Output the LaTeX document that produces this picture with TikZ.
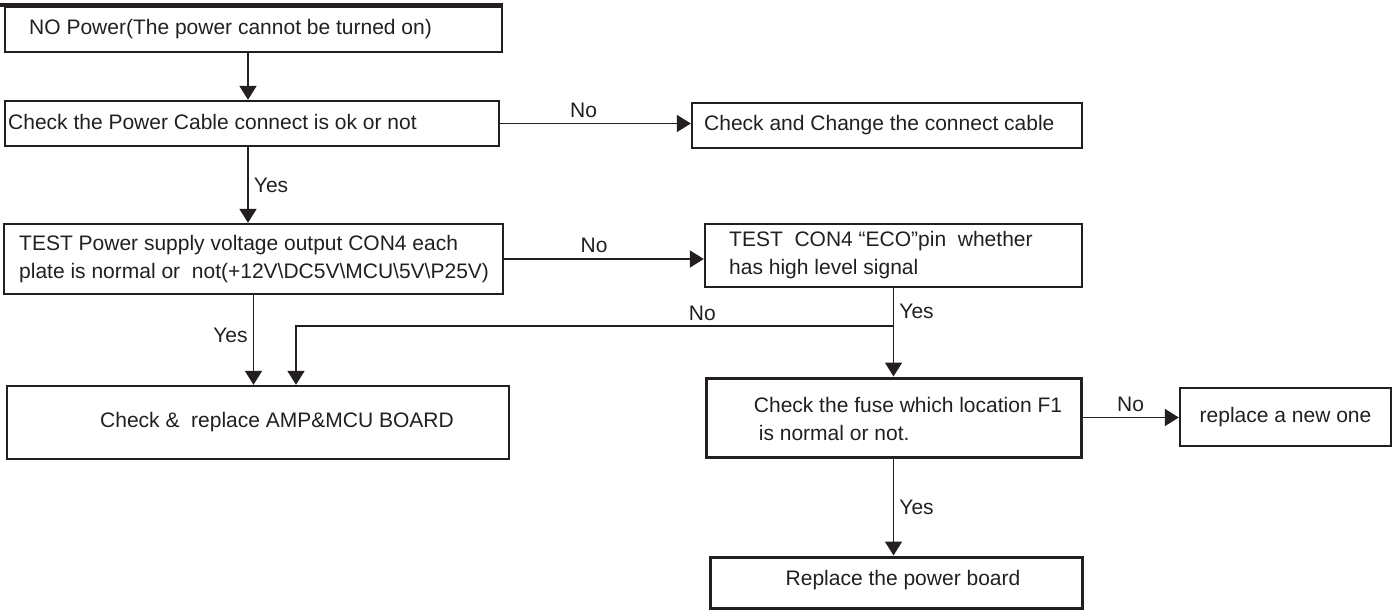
\documentclass[tikz,border=0pt]{standalone}
\usepackage{fontspec}
\setmainfont{Liberation Sans}
\usepackage{tikz}
\usetikzlibrary{arrows.meta, positioning, calc, fit}
\definecolor{ink}{RGB}{35,31,32}

\begin{document}
\begin{tikzpicture}[
		x=0.5pt, y=-0.5pt,
		box/.style={draw=ink, line width=1.2pt, inner sep=0pt},
		txt/.style={inner sep=0pt, text=ink, font=\fontsize{10.5}{14}\selectfont, align=left},
		lbl/.style={inner sep=2.5pt, text=ink, font=\fontsize{10.5}{12}\selectfont},
		arr/.style={->, draw=ink, line width=0.9pt},
		>={Triangle[length=7pt, width=8.5pt]}
	]
		\useasboundingbox (0,0) rectangle (1400,610);

		% Start: no power
		\draw[ink, line width=2pt] (0,5.5) -- (503,5.5);
		\node[box, fit={(5,7) (502,52)}] (b1) {};
		\node[txt, anchor=west] (t1) at ([xshift=12.5pt]b1.west) {NO Power(The power cannot be turned on)};

		% Power cable
		\node[box, fit={(5,101) (499,146)}] (b2) {};
		\node[txt, anchor=west] (t2) at ([xshift=2pt, yshift=1pt]b2.west) {Check the Power Cable connect is ok or not};
		\node[box, fit={(692,103) (1082,148)}] (c1) {};
		\node[txt, anchor=west] (t3) at ([xshift=6.5pt]c1.west) {Check and Change the connect cable};

		% Supply voltage test
		\node[box, fit={(4,224) (503,294)}] (b3) {};
		\node[txt, anchor=west] (t4) at ([xshift=8pt]b3.west) {TEST Power supply voltage output CON4 each\\
			plate is normal or\ \ not(+12V\textbackslash DC5V\textbackslash MCU\textbackslash 5V\textbackslash P25V)};
		\node[box, fit={(705,224) (1082,287)}] (b4) {};
		\node[txt, anchor=west] (t5) at ([xshift=12.5pt]b4.west) {TEST\ \ CON4 “ECO”pin\ \ whether\\has high level signal};

		% Boards
		\node[box, fit={(7,386) (509,459)}] (b5) {};
		\node[txt] (t6) at ([xshift=9.5pt]b5.center) {Check \&\ \ replace AMP\&MCU BOARD};
		\node[box, line width=1.5pt, fit={(706,378) (1081,457)}] (b6) {};
		\node[txt, anchor=west] (t7) at ([xshift=24.5pt, yshift=-0.8pt]b6.west) {Check the fuse which location F1\\\hspace*{2.5pt}is normal or not.};
		\node[box, fit={(1180,388) (1391,446)}] (b7) {};
		\node[txt] (t8) at (b7.center) {replace a new one};
		\node[box, line width=1.5pt, fit={(710,557) (1082,608)}] (b8) {};
		\node[txt] (t9) at ([xshift=3.5pt, yshift=1pt]b8.center) {Replace the power board};

		% Connectors
		\draw[arr] ([xshift=-2.75pt]b1.south) -- ([xshift=-2.75pt]b1.south |- b2.north);
		\draw[arr] (b2.east) -- (b2.east -| c1.west) node[lbl, midway, above, xshift=-6pt] {No};
		\draw[arr] ([xshift=-2pt]b2.south) -- ([xshift=-2pt]b2.south |- b3.north) node[lbl, midway, right] {Yes};
		\draw[arr] (b3.east) -- (b3.east -| b4.west) node[lbl, midway, above, xshift=-5pt] {No};
		\draw[arr] (b3.south) -- (b3.south |- b5.north) node[lbl, pos=0.45, left] {Yes};
		\draw[arr] (b4.south) -- (b6.north) node[lbl, pos=0.26, right] {Yes};
		\coordinate (j1) at ($(b4.south)!0.43!(b6.north)$);
		\draw[arr] (j1) -- ([xshift=19pt]b5.north |- j1) node[lbl, pos=0.32, above] {No} -- ([xshift=19pt]b5.north);
		\draw[arr] (b6.east) -- (b6.east -| b7.west) node[lbl, midway, above] {No};
		\draw[arr] (b6.south) -- (b6.south |- b8.north) node[lbl, midway, right] {Yes};
	\end{tikzpicture}
\end{document}
